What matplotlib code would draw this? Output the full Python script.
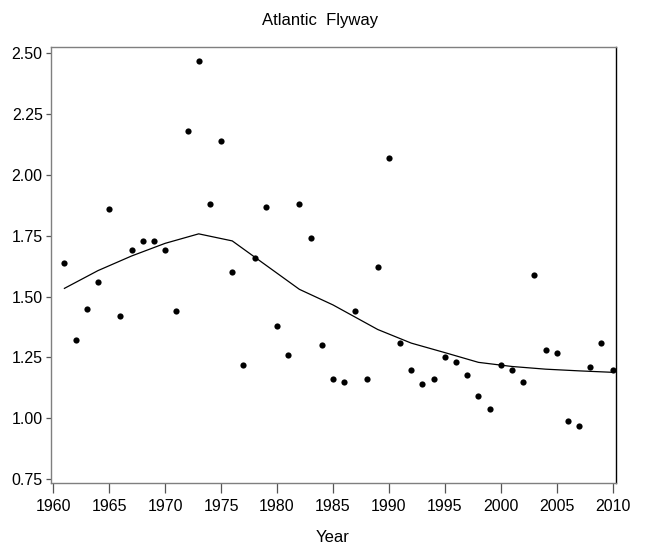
import matplotlib
matplotlib.use("Agg")
import matplotlib.pyplot as plt

years = list(range(1961, 2011))
values = [1.64, 1.32, 1.45, 1.56, 1.86, 1.42, 1.69, 1.73, 1.73, 1.69,
          1.44, 2.18, 2.47, 1.88, 2.14, 1.60, 1.22, 1.66, 1.87, 1.38,
          1.26, 1.88, 1.74, 1.30, 1.16, 1.15, 1.44, 1.16, 1.62, 2.07,
          1.31, 1.20, 1.14, 1.16, 1.25, 1.23, 1.18, 1.09, 1.04, 1.22,
          1.20, 1.15, 1.59, 1.28, 1.27, 0.99, 0.97, 1.21, 1.31, 1.20]

smooth_years = [1961, 1964, 1967, 1970, 1973, 1976, 1982, 1985, 1989, 1992,
                1995, 1998, 2001, 2004, 2007, 2010]
smooth_vals = [1.534, 1.607, 1.667, 1.719, 1.758, 1.729, 1.530, 1.466, 1.365,
               1.309, 1.270, 1.230, 1.213, 1.202, 1.195, 1.189]

xticks = [1960, 1965, 1970, 1975, 1980, 1985, 1990, 1995, 2000, 2005, 2010]
yticks = [0.75, 1.00, 1.25, 1.50, 1.75, 2.00, 2.25, 2.50]

plt.rcParams['font.family'] = ['Liberation Sans', 'DejaVu Sans']

fig = plt.figure(figsize=(6.45, 5.5), dpi=100)
ax = fig.add_axes([51/645, 1 - 483.3/550, (615.7 - 51)/645, (483.3 - 46.7)/550])

ax.plot(smooth_years, smooth_vals, color='black', lw=0.9, zorder=2)
ax.scatter(years, values, s=20, color='black', zorder=3, linewidths=0)

ax.set_xlim(1959.8, 2010.27)
ax.set_ylim(0.733, 2.527)
ax.set_xticks(xticks)
ax.set_xticklabels([str(t) for t in xticks])
ax.set_yticks(yticks)
ax.set_yticklabels([f"{t:.2f}" for t in yticks])

ax.tick_params(axis='x', length=7, width=0.9, color='#555555', pad=4, labelsize=11.5)
ax.tick_params(axis='y', length=3.5, width=0.9, color='#555555', pad=2.5, labelsize=11.5)

for side in ['left', 'bottom', 'top']:
    ax.spines[side].set_color('#7f7f7f')
    ax.spines[side].set_linewidth(1.0)
ax.spines['right'].set_color('black')
ax.spines['right'].set_linewidth(1.0)

fig.text(333/645, 1 - 538/550, 'Year', ha='center', va='center', fontsize=12)
fig.text(320/645, 1 - 21/550, 'Atlantic  Flyway', ha='center', va='center', fontsize=12)

fig.savefig('out.png', dpi=100)
